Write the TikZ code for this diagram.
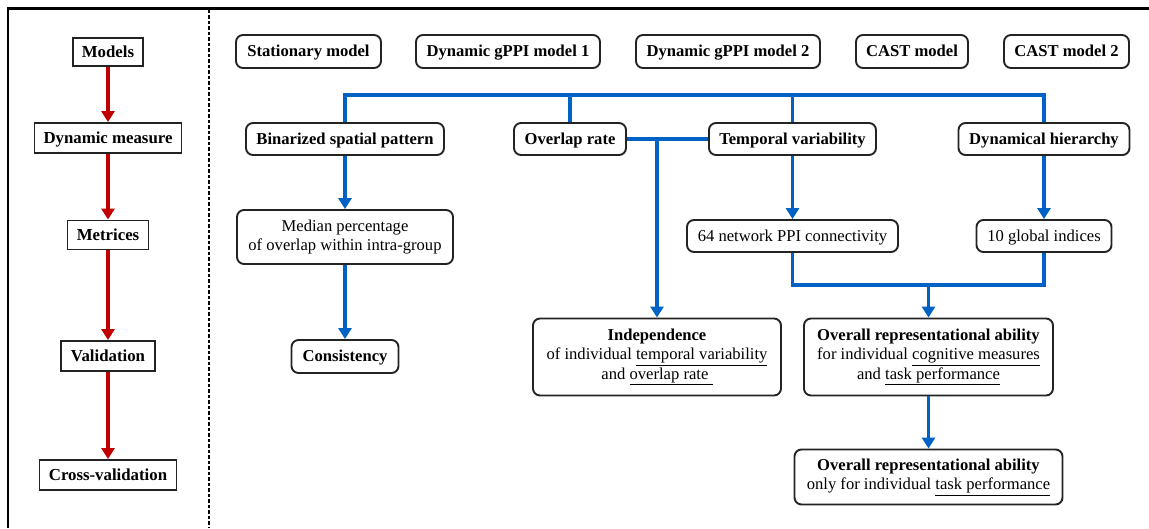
\documentclass[tikz,border=0pt]{standalone}
\usepackage{fontspec}
\setmainfont{Liberation Serif}
\usetikzlibrary{arrows.meta}
\definecolor{busblue}{RGB}{0,98,196}
\definecolor{darkred}{RGB}{192,0,0}
\definecolor{boxgray}{RGB}{35,35,35}
\tikzset{
  base/.style={font=\fontsize{16.6}{19.7}\selectfont, align=center, inner sep=0pt, draw=boxgray, line width=1.9pt, fill=white},
  sline/.style={text height=13.5pt, text depth=3pt},
  stage/.style={base, sline, font=\fontsize{16.8}{19.7}\selectfont\bfseries},
  rbox/.style={base, rounded corners=7pt},
  rboxb/.style={rbox, font=\fontsize{16.6}{19.7}\selectfont\bfseries},
  bus/.style={draw=busblue, line width=3.8pt},
  bluearrow/.style={bus, -{Triangle[length=11pt,width=13pt]}},
  redarrow/.style={draw=darkred, line width=3.4pt, -{Triangle[length=11pt,width=13pt]}},
}
\begin{document}
\begin{tikzpicture}[x=1pt,y=-1pt]
\useasboundingbox (0,0) rectangle (1149,528);
% frame
\draw[line width=2.4pt, black] (8,528) -- (8,8.5) -- (1149,8.5);
\draw[line width=2.6pt, black, dash pattern=on 3.5pt off 2pt] (209,9.5) -- (209,528);

% left column
\node[stage, minimum width=70pt, minimum height=28pt] (m1) at (108,52) {Models};
\node[stage, minimum width=147pt, minimum height=30pt] (m2) at (108,138) {Dynamic measure};
\node[stage, minimum width=81pt, minimum height=29pt] (m3) at (108,235) {Metrices};
\node[stage, minimum width=94pt, minimum height=30pt] (m4) at (108,356) {Validation};
\node[stage, minimum width=137pt, minimum height=30pt] (m5) at (108,475) {Cross-validation};
\draw[redarrow] (m1) -- (m2);
\draw[redarrow] (m2) -- (m3);
\draw[redarrow] (m3) -- (m4);
\draw[redarrow] (m4) -- (m5);

% models row
\node[rboxb, sline, minimum width=145pt, minimum height=33pt] (s1) at (308.5,51.5) {Stationary model};
\node[rboxb, sline, minimum width=184pt, minimum height=33pt] (s2) at (508,51.5) {Dynamic gPPI model 1};
\node[rboxb, sline, minimum width=184pt, minimum height=33pt] (s3) at (728,51.5) {Dynamic gPPI model 2};
\node[rboxb, sline, minimum width=112pt, minimum height=33pt] (s4) at (912,51.5) {CAST model};
\node[rboxb, sline, minimum width=125pt, minimum height=33pt] (s5) at (1066.5,51.5) {CAST model 2};

% dynamic measures row
\node[rboxb, sline, minimum width=198pt, minimum height=32pt] (b1) at (345,139) {Binarized spatial pattern};
\node[rboxb, sline, minimum width=112pt, minimum height=32pt] (b2) at (570,139) {Overlap rate};
\node[rboxb, sline, minimum width=167pt, minimum height=32pt] (b3) at (792.5,139) {Temporal variability};
\node[rboxb, sline, minimum width=171pt, minimum height=32pt] (b4) at (1044,139) {Dynamical hierarchy};

% metrics row
\node[rbox, minimum width=216pt, minimum height=54pt] (c1) at (345,237) {Median percentage\\of overlap within intra-group};
\node[rbox, sline, minimum width=211pt, minimum height=32pt] (c3) at (792.5,236) {64 network PPI connectivity};
\node[rbox, sline, minimum width=135pt, minimum height=32pt] (c4) at (1044,236) {10 global indices};

% validation row
\node[rboxb, sline, minimum width=107pt, minimum height=33pt] (d1) at (345,356.5) {Consistency};
\node[rbox, minimum width=248pt, minimum height=77pt] (d2) at (657,357) {\textbf{Independence}\\of individual \underline{temporal variability}\\and \underline{overlap rate\ }};
\node[rbox, minimum width=249pt, minimum height=77pt] (d3) at (928.5,357) {\textbf{Overall representational ability}\\for individual \underline{cognitive measures}\\and \underline{task performance}};

% cross-validation
\node[rbox, minimum width=268pt, minimum height=55pt] (e3) at (928.5,477) {\textbf{Overall representational ability}\\only for individual \underline{task performance}};

% bus from models
\coordinate (busy) at (0,95);
\draw[bus] (b1.north) -- (b1.north |- busy) -- (b4.north |- busy) -- (b4.north);
\draw[bus] (b2.north) -- (b2.north |- busy);
\draw[bus] (b3.north) -- (b3.north |- busy);

% overlap -- temporal
\draw[bus] (b2.east) -- (b3.west);
\coordinate (br) at (657,139);
\draw[bluearrow] (br) -- (d2.north);

% binarized chain
\draw[bluearrow] (b1.south) -- (c1.north);
\draw[bluearrow] (c1.south) -- (d1.north);

% temporal / hierarchy
\draw[bluearrow] (b3.south) -- (c3.north);
\draw[bluearrow] (b4.south) -- (c4.north);

% merge
\coordinate (mg) at (928.5,285);
\draw[bus] (c3.south) -- (c3.south |- mg) -- (c4.south |- mg) -- (c4.south);
\draw[bluearrow] (mg) -- (d3.north);
\draw[bluearrow] (d3.south) -- (e3.north);
\end{tikzpicture}
\end{document}
